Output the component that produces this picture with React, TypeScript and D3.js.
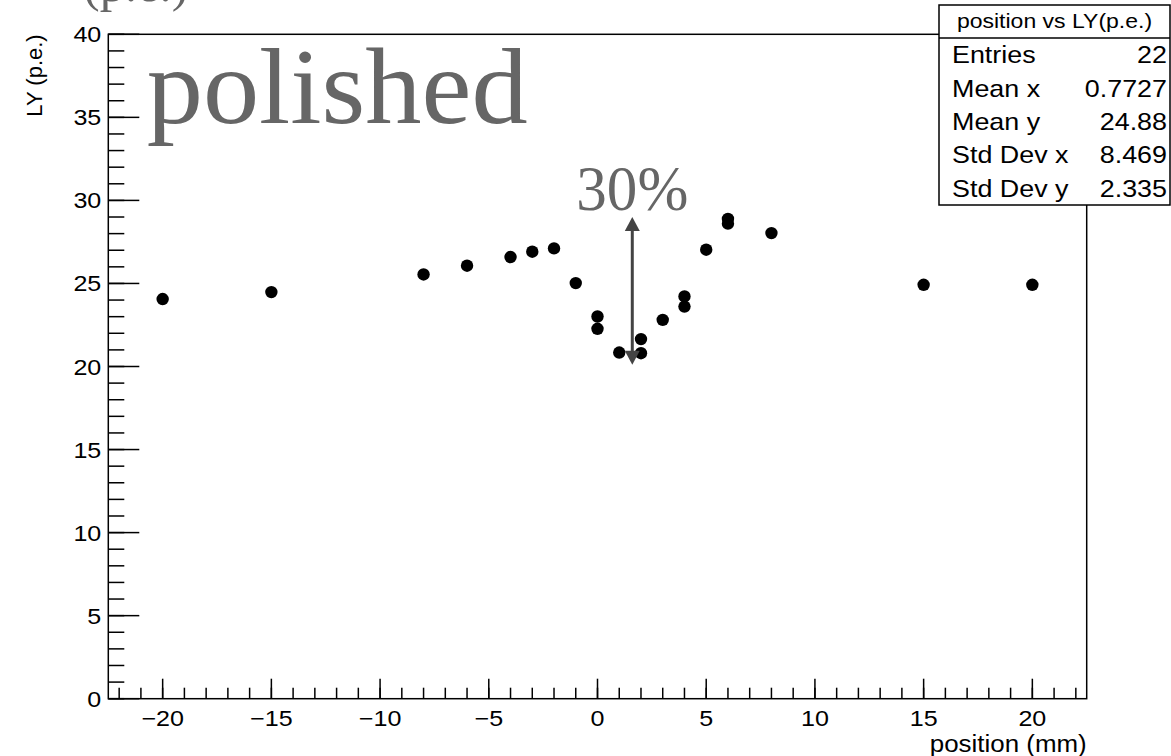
import React from 'react';
import * as d3 from 'd3';

// scan positions (mm) and measured light yield (p.e.)
const positions = [-20, -15, -8, -6, -4, -3, -2, -1, 0, 0, 1, 2, 2, 3, 4, 4, 5, 6, 6, 8, 15, 20];
const lightYield = [
  24.06, 24.48, 25.54, 26.07, 26.59, 26.91, 27.11, 25.02, 23.01, 22.27, 20.84,
  21.65, 20.8, 22.81, 24.22, 23.61, 27.03, 28.88, 28.6, 28.03, 24.92, 24.92,
];

const statsTitle = 'position vs LY(p.e.)';
const statLabels = ['Entries', 'Mean x', 'Mean y', 'Std Dev x', 'Std Dev y'];
const statValues = ['22', '0.7727', '24.88', '8.469', '2.335'];

const xTitle = 'position (mm)';
const yTitle = 'LY (p.e.)';
const xDomain = [-22.5, 22.5];
const yDomain = [0, 40];

// annotation: double arrow + labels
const arrowX = 1.6;
const arrowFrom = 20.1;
const arrowTo = 29.0;
const arrowLabel = '30%';
const sampleLabel = 'polished';
const cutLabel = '(p.e.)';

const W = 1171;
const H = 756;
const frame = { left: 108.3, right: 1086.7, top: 34.3, bottom: 698.7 };
const SANS = '"Liberation Sans", Arial, Helvetica, sans-serif';
const SERIF = '"Liberation Serif", "Times New Roman", serif';
const ANNO = '#666';

function SText(props: any) {
  const { x, y, sx = 1.14, anchor = 'start', size, fill = '#000', family = SANS, rotate = 0, children } = props;
  const rot = rotate ? ` rotate(${rotate})` : '';
  return (
    <text
      transform={`translate(${x},${y})${rot} scale(${sx},1)`}
      textAnchor={anchor}
      fontSize={size}
      fontFamily={family}
      fill={fill}
    >
      {children}
    </text>
  );
}

export default function App() {
  const x = d3.scaleLinear().domain(xDomain).range([frame.left, frame.right]);
  const y = d3.scaleLinear().domain(yDomain).range([frame.bottom, frame.top]);

  const xMajor = x.ticks(9);
  const xMinor = x.ticks(45);
  const yMajor = y.ticks(8);
  const yMinor = y.ticks(40);
  const fmtX = x.tickFormat(9);

  const ax = x(arrowX);
  const aTop = y(arrowTo);
  const aBot = y(arrowFrom);
  const hw = 7.5;
  const hl = 14;

  const box = { x0: 939, x1: 1170, y0: 5, y1: 205, head: 38 };
  const rowH = (box.y1 - box.head) / statLabels.length;

  return (
    <svg width={W} height={H} style={{ position: 'absolute', left: 0, top: 0, background: '#fff' }}>
      <rect width={W} height={H} fill="#fff" />

      {/* cut-off title at top */}
      <text x={83} y={1} fontFamily={SERIF} fontSize={50} fill={ANNO}>{cutLabel}</text>

      {/* frame */}
      <rect x={frame.left} y={frame.top} width={frame.right - frame.left} height={frame.bottom - frame.top}
        fill="none" stroke="#000" strokeWidth={1.5} />

      {/* x axis ticks */}
      <g stroke="#000" strokeWidth={1.5}>
        {xMinor.map(t => (
          <line key={'xm' + t} x1={x(t)} x2={x(t)} y1={frame.bottom} y2={frame.bottom - 11} />
        ))}
        {xMajor.map(t => (
          <line key={'xM' + t} x1={x(t)} x2={x(t)} y1={frame.bottom} y2={frame.bottom - 20} />
        ))}
        {yMinor.map(t => (
          <line key={'ym' + t} x1={frame.left} x2={frame.left + 16} y1={y(t)} y2={y(t)} />
        ))}
        {yMajor.map(t => (
          <line key={'yM' + t} x1={frame.left} x2={frame.left + 31} y1={y(t)} y2={y(t)} />
        ))}
      </g>
      {xMajor.map(t => (
        <SText key={'xl' + t} x={x(t)} y={frame.bottom + 27} anchor="middle" size={22}>{fmtX(t)}</SText>
      ))}
      {yMajor.map(t => (
        <SText key={'yl' + t} x={frame.left - 7} y={y(t) + 8} anchor="end" size={22}>{String(t)}</SText>
      ))}

      <SText x={frame.right} y={752} anchor="end" size={24} sx={1.08}>{xTitle}</SText>
      <SText x={42} y={frame.top} anchor="end" size={22} sx={1} rotate={-90}>{yTitle}</SText>

      {/* points */}
      <g fill="#000">
        {positions.map((p, i) => (
          <circle key={i} cx={x(p)} cy={y(lightYield[i])} r={6.2} />
        ))}
      </g>

      {/* arrow */}
      <g fill="#444" stroke="none">
        <line x1={ax} x2={ax} y1={aTop + hl - 1} y2={aBot - hl + 1} stroke="#444" strokeWidth={3} />
        <path d={`M${ax},${aTop}L${ax - hw},${aTop + hl}L${ax + hw},${aTop + hl}Z`} />
        <path d={`M${ax},${aBot}L${ax - hw},${aBot - hl}L${ax + hw},${aBot - hl}Z`} />
      </g>
      <text x={ax} y={aTop - 7} textAnchor="middle" fontFamily={SERIF} fontSize={63} fill={ANNO}
        textLength={112} lengthAdjust="spacingAndGlyphs">{arrowLabel}</text>

      <text x={146.7} y={122.7} fontFamily={SERIF} fontSize={108} fill={ANNO}
        textLength={381} lengthAdjust="spacingAndGlyphs">{sampleLabel}</text>

      {/* stats box */}
      <rect x={box.x0} y={box.y0} width={box.x1 - box.x0} height={box.y1 - box.y0}
        fill="#fff" stroke="#000" strokeWidth={1.5} />
      <line x1={box.x0} x2={box.x1} y1={box.head} y2={box.head} stroke="#000" strokeWidth={1.5} />
      <SText x={(box.x0 + box.x1) / 2} y={28} anchor="middle" size={20} sx={1.15}>{statsTitle}</SText>
      {statLabels.map((l, i) => (
        <g key={l}>
          <SText x={box.x0 + 13} y={box.head + rowH * (i + 0.5) + 8.5} size={24} sx={1.12}>{l}</SText>
          <SText x={box.x1 - 3} y={box.head + rowH * (i + 0.5) + 8.5} anchor="end" size={24} sx={1.12}>{statValues[i]}</SText>
        </g>
      ))}
    </svg>
  );
}
